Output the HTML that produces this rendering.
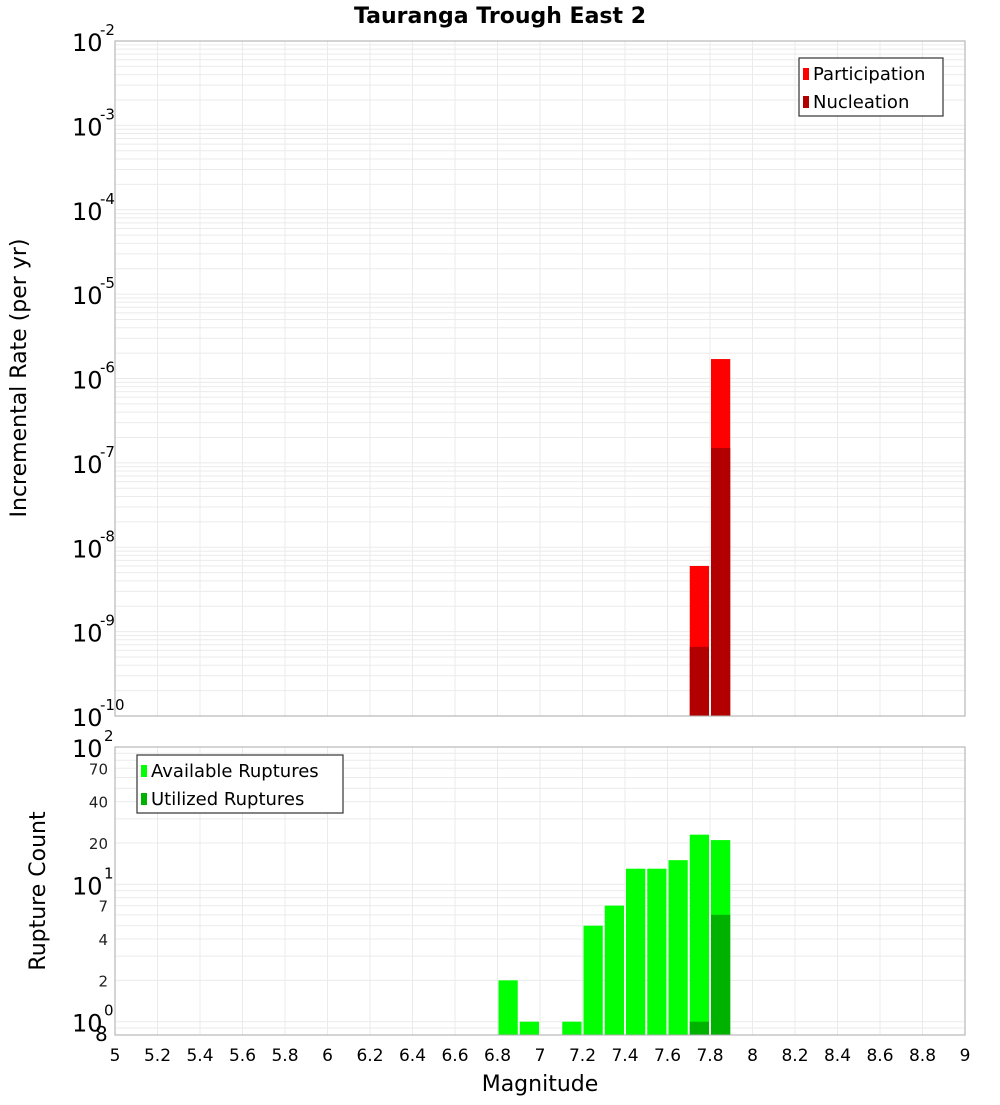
<!DOCTYPE html>
<html><head><meta charset="utf-8"><style>
body{margin:0;background:#fff;width:1000px;height:1100px;overflow:hidden}
svg{font-family:"DejaVu Sans","Liberation Sans",sans-serif}
</style></head><body>
<svg id="chart" width="1000" height="1100"></svg>
<script>
const magBins=[6.85,6.95,7.15,7.25,7.35,7.45,7.55,7.65,7.75,7.85];
const available=[2,1,1,5,7,13,13,15,23,21];
const utilizedMags=[7.75,7.85];
const utilized=[1,6];
const rateMags=[7.75,7.85];
const participation=[6e-9,1.7e-6];
const nucleation=[6.6e-10,1.5e-7];
const xTicks=[5,5.2,5.4,5.6,5.8,6,6.2,6.4,6.6,6.8,7,7.2,7.4,7.6,7.8,8,8.2,8.4,8.6,8.8,9];
const topExps=[-2,-3,-4,-5,-6,-7,-8,-9,-10];
const botExps=[2,1,0];

const NS='http://www.w3.org/2000/svg';
const svg=document.getElementById('chart');
function mk(t,a,p){const e=document.createElementNS(NS,t);for(const k in a)e.setAttribute(k,a[k]);(p||svg).appendChild(e);return e;}
const X0=115,X1=965;
const x=m=>X0+(m-5)/4*(X1-X0);
const T0=41,T1=716;
const yTop=v=>T0+(-2-Math.log10(v))/8*(T1-T0);
const B0=747,B1=1035,bMin=0.8,bMax=100;
const yBot=v=>B0+(Math.log10(bMax)-Math.log10(v))/(Math.log10(bMax)-Math.log10(bMin))*(B1-B0);

// title
let t=mk('text',{x:500,y:23,'text-anchor':'middle','font-size':22,'font-weight':'bold'});
t.textContent='Tauranga Trough East 2';



function grid(y0,y1,yf,lo,hi){
  const g=mk('g',{stroke:'#ebebeb','stroke-width':1});
  
  
  xTicks.forEach(v=>mk('line',{x1:x(v),x2:x(v),y1:y0,y2:y1},g));
  for(let e=lo;e<hi;e++)for(let k=1;k<10;k++){const v=k*Math.pow(10,e);const yy=yf(v);if(yy>=y0&&yy<=y1)mk('line',{x1:X0,x2:X1,y1:yy,y2:yy},g);}
}
grid(T0,T1,yTop,-10,-2);
grid(B0,B1,yBot,-1,2);

// top bars
rateMags.forEach((m,i)=>{
  let r=mk('rect',{x:x(m-0.05)+1,y:yTop(participation[i]),width:x(m+0.05)-x(m-0.05)-2,height:T1-yTop(participation[i]),fill:'#ff0000'});
  
  
  r=mk('rect',{x:x(m-0.05)+1,y:yTop(nucleation[i]),width:x(m+0.05)-x(m-0.05)-2,height:T1-yTop(nucleation[i]),fill:'#b20000'});
  
  
});
// bottom bars
magBins.forEach((m,i)=>{
  const r=mk('rect',{x:x(m-0.05)+1,y:yBot(available[i]),width:x(m+0.05)-x(m-0.05)-2,height:B1-yBot(available[i]),fill:'#00ff00'});
  
  
});
utilizedMags.forEach((m,i)=>{
  const r=mk('rect',{x:x(m-0.05)+1,y:yBot(utilized[i]),width:x(m+0.05)-x(m-0.05)-2,height:B1-yBot(utilized[i]),fill:'#00b200'});
  
  
});

// frames
let f=mk('rect',{x:X0,y:T0,width:X1-X0,height:T1-T0,fill:'none',stroke:'#aaa'});


f=mk('rect',{x:X0,y:B0,width:X1-X0,height:B1-B0,fill:'none',stroke:'#aaa'});



// y labels top
topExps.forEach(e=>{
  const yy=yTop(Math.pow(10,e));
  const tx=mk('text',{x:72,y:yy+10,'font-size':24});
  tx.textContent='10';
  
  
  const s=mk('text',{x:100,y:yy-6,'font-size':15});
  s.textContent=String(e);
  
  
});
botExps.forEach(e=>{
  const yy=yBot(Math.pow(10,e));
  const tx=mk('text',{x:72,y:yy+10,'font-size':24});
  tx.textContent='10';
  
  
  const s=mk('text',{x:104,y:yy-6,'font-size':15});
  s.textContent=String(e);
  
  
});
[7,4,2,0.7,0.4,0.2].forEach(v=>{
  const yy=yBot(v*10);
  const tx=mk('text',{x:108,y:yy+6,'font-size':15,'text-anchor':'end',fill:'#222'});
  tx.textContent=String(Math.round(v*10)%10||v*10);
  
  
});
let eight=mk('text',{x:95,y:1041,'font-size':20});
eight.textContent='8';



// x ticks
xTicks.forEach(v=>{
  const tx=mk('text',{x:x(v),y:1061,'font-size':17,'text-anchor':'middle'});
  tx.textContent=String(v);
  
  
});
let xl=mk('text',{x:540,y:1091,'font-size':22,'text-anchor':'middle'});
xl.textContent='Magnitude';


let yl=mk('text',{x:26,y:378,'font-size':22,'text-anchor':'middle',transform:'rotate(-90 26 378)'});
yl.textContent='Incremental Rate (per yr)';


yl=mk('text',{x:45,y:891,'font-size':22,'text-anchor':'middle',transform:'rotate(-90 45 891)'});
yl.textContent='Rupture Count';



// legends
function legend(x0,y0,w,items,name){
  const g=mk('g',{});
  
  
  mk('rect',{x:x0,y:y0,width:w,height:58,fill:'#fff',stroke:'#333','stroke-width':1.2},g);
  items.forEach((it,i)=>{
    mk('rect',{x:x0+4,y:y0+10+i*28,width:6,height:12,fill:it[1]},g);
    const tx=mk('text',{x:x0+14,y:y0+22+i*28,'font-size':18},g);
    tx.textContent=it[0];
    
    
  });
}
legend(799,58,144,[['Participation','#ff0000'],['Nucleation','#b20000']],'rate-legend');
legend(137,755,206,[['Available Ruptures','#00ff00'],['Utilized Ruptures','#00b200']],'rupture-legend');
</script>
</body></html>
